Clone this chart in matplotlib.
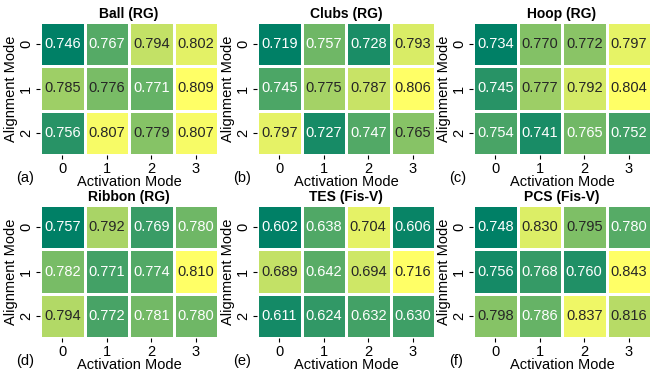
import numpy as np
import matplotlib
matplotlib.use("Agg")
import matplotlib.pyplot as plt
import seaborn as sns

plt.rcParams['font.family'] = ['Liberation Sans', 'DejaVu Sans']
plt.rcParams['font.size'] = 10

# rows: alignment mode 0..2, columns: activation mode 0..3
ball    = [[0.746, 0.767, 0.794, 0.802],
           [0.785, 0.776, 0.771, 0.809],
           [0.756, 0.807, 0.779, 0.807]]
clubs   = [[0.719, 0.757, 0.728, 0.793],
           [0.745, 0.775, 0.787, 0.806],
           [0.797, 0.727, 0.747, 0.765]]
hoop    = [[0.734, 0.770, 0.772, 0.797],
           [0.745, 0.777, 0.792, 0.804],
           [0.754, 0.741, 0.765, 0.752]]
ribbon  = [[0.757, 0.792, 0.769, 0.780],
           [0.782, 0.771, 0.774, 0.810],
           [0.794, 0.772, 0.781, 0.780]]
tes     = [[0.602, 0.638, 0.704, 0.606],
           [0.689, 0.642, 0.694, 0.716],
           [0.611, 0.624, 0.632, 0.630]]
pcs     = [[0.748, 0.830, 0.795, 0.780],
           [0.756, 0.768, 0.760, 0.843],
           [0.798, 0.786, 0.837, 0.816]]

titles = ['Ball (RG)', 'Clubs (RG)', 'Hoop (RG)',
          'Ribbon (RG)', 'TES (Fis-V)', 'PCS (Fis-V)']
tags = ['(a)', '(b)', '(c)', '(d)', '(e)', '(f)']
activation = ['0', '1', '2', '3']
alignment = ['0', '1', '2']

fig = plt.figure(figsize=(6.5, 3.75), dpi=100)

# panel boxes in pixels
lefts = [40, 257, 473]
tops = [22, 205]
w, h = 178, 133

for k, (vals, title, tag) in enumerate(zip([ball, clubs, hoop, ribbon, tes, pcs], titles, tags)):
    r, c = divmod(k, 3)
    ax = fig.add_axes([lefts[c] / 650, 1 - (tops[r] + h) / 375, w / 650, h / 375])
    sns.heatmap(np.array(vals), ax=ax, cmap='summer', annot=True, fmt='.3f',
                annot_kws={'fontsize': 10.5}, linewidths=1, linecolor='white',
                cbar=False, xticklabels=activation, yticklabels=alignment)
    ax.set_title(title, fontsize=10, fontweight='bold', pad=3)
    ax.set_xlabel('Activation Mode', fontsize=10.5, labelpad=-1)
    ax.set_ylabel('Alignment Mode', fontsize=10.5, labelpad=1)
    ax.tick_params(labelsize=10.5, length=3, pad=2)
    ax.text(-0.135, -0.17, tag, transform=ax.transAxes, fontsize=10.5,
            ha='left', va='center')

fig.savefig('out.png', dpi=100)
